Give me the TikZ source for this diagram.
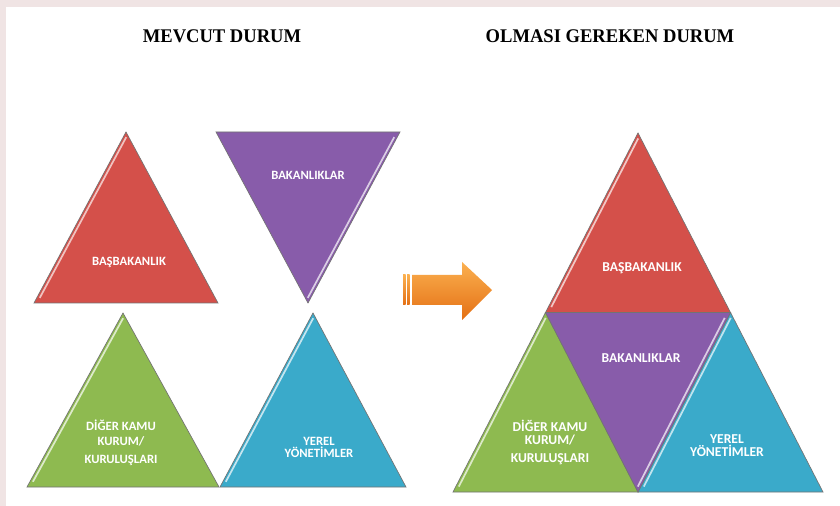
\documentclass[tikz,border=0pt]{standalone}
\usepackage{fontspec}
\setmainfont{Liberation Serif}
\newfontfamily\etiket{Carlito}
\definecolor{kirmizi}{RGB}{212,80,74}
\definecolor{mor}{RGB}{136,92,170}
\definecolor{yesil}{RGB}{142,186,80}
\definecolor{mavi}{RGB}{58,170,202}
\definecolor{cerceve}{RGB}{240,228,228}
\definecolor{turuncuA}{RGB}{251,176,80}
\definecolor{turuncuB}{RGB}{228,112,20}
\tikzstyle{kenar}=[draw=black!55, line width=0.5pt, line join=miter]
\tikzstyle{isik}=[line width=1.3pt]
\tikzstyle{yazi}=[text=white, font=\etiket\bfseries\fontsize{9.5}{11.3}\selectfont, align=center, inner sep=0]
\tikzstyle{yazib}=[yazi, font=\etiket\bfseries\fontsize{10.2}{9.75}\selectfont]
\tikzstyle{baslik}=[font=\bfseries\fontsize{14.5}{16}\selectfont, xscale=0.96, inner sep=0]
\tikzstyle{ok}=[top color=turuncuA, bottom color=turuncuB]
\newcommand{\ucgen}[5]{
  \begin{scope}[shift={#1}]
  \fill[#4] (0,0) -- (-#2,#3) -- (#2,#3) -- cycle;
  \draw[isik,#5] (-0.03*#2+3,0.03*#3) -- (-0.97*#2+3,0.97*#3);
  \path[kenar] (0,0) -- (-#2,#3) -- (#2,#3) -- cycle;
  \end{scope}
}
\newcommand{\tersucgen}[5]{
  \begin{scope}[shift={#1}]
  \fill[#4] (0,0) -- (-#2,-#3) -- (#2,-#3) -- cycle;
  \draw[isik,#5] (0.97*#2-3,-0.97*#3) -- (0.03*#2-3,-0.03*#3);
  \path[kenar] (0,0) -- (-#2,-#3) -- (#2,-#3) -- cycle;
  \end{scope}
}
\begin{document}
\begin{tikzpicture}[x=0.75pt,y=-0.75pt]
\useasboundingbox (0,0) rectangle (840,506);
\fill[cerceve] (0,0) rectangle (840,506);
\fill[white] (6,7) rectangle (840,506);

%basliklar
\node[baslik] (mevcut) at (222,36) {MEVCUT DURUM};
\node[baslik] (olmasi) at (610,36) {OLMASI GEREKEN DURUM};

%mevcut durum
\ucgen{(126,132)}{92}{171}{kirmizi}{kirmizi!35!white}
\tersucgen{(308,303)}{92}{171}{mor}{mor!30!white}
\ucgen{(123,313)}{96}{174}{yesil}{yesil!30!white}
\ucgen{(313,313)}{93}{174}{mavi}{mavi!30!white}

\node[yazi] (basbakanlik1) at (129,262) {BAŞBAKANLIK};
\node[yazi] (bakanliklar1) at (308,175) {BAKANLIKLAR};
\node[yazi] (diger1) at (121,443) {DİĞER KAMU\\KURUM/\\[2.2pt]KURULUŞLARI};
\node[yazi] (yerel1) at (319,447) {YEREL\\[-2.3pt]YÖNETİMLER};

%ok
\shade[ok] (412,275) -- (462,275) -- (462,262) -- (492,290) -- (462,320) -- (462,305) -- (412,305) -- cycle;
\foreach \x in {403,407}
  \shade[ok] (\x,275) rectangle (\x+2.5,305);

%olmasi gereken durum
\foreach \px/\py/\r in {638/133/kirmizi, 545.5/312.5/yesil, 730.5/312.5/mavi}
  {\ucgen{(\px,\py)}{92.5}{179.5}{\r}{\r!32!white}}
\tersucgen{(638,492)}{92.5}{179.5}{mor}{mor!30!white}

\node[yazib] (basbakanlik2) at (642,268) {BAŞBAKANLIK};
\node[yazib] (bakanliklar2) at (641,358) {BAKANLIKLAR};
\node[yazib] (diger2) at (550,442) {DİĞER KAMU\\KURUM/\\[3.7pt]KURULUŞLARI};
\node[yazib] (yerel2) at (727,446) {YEREL\\YÖNETİMLER};
\end{tikzpicture}
\end{document}
